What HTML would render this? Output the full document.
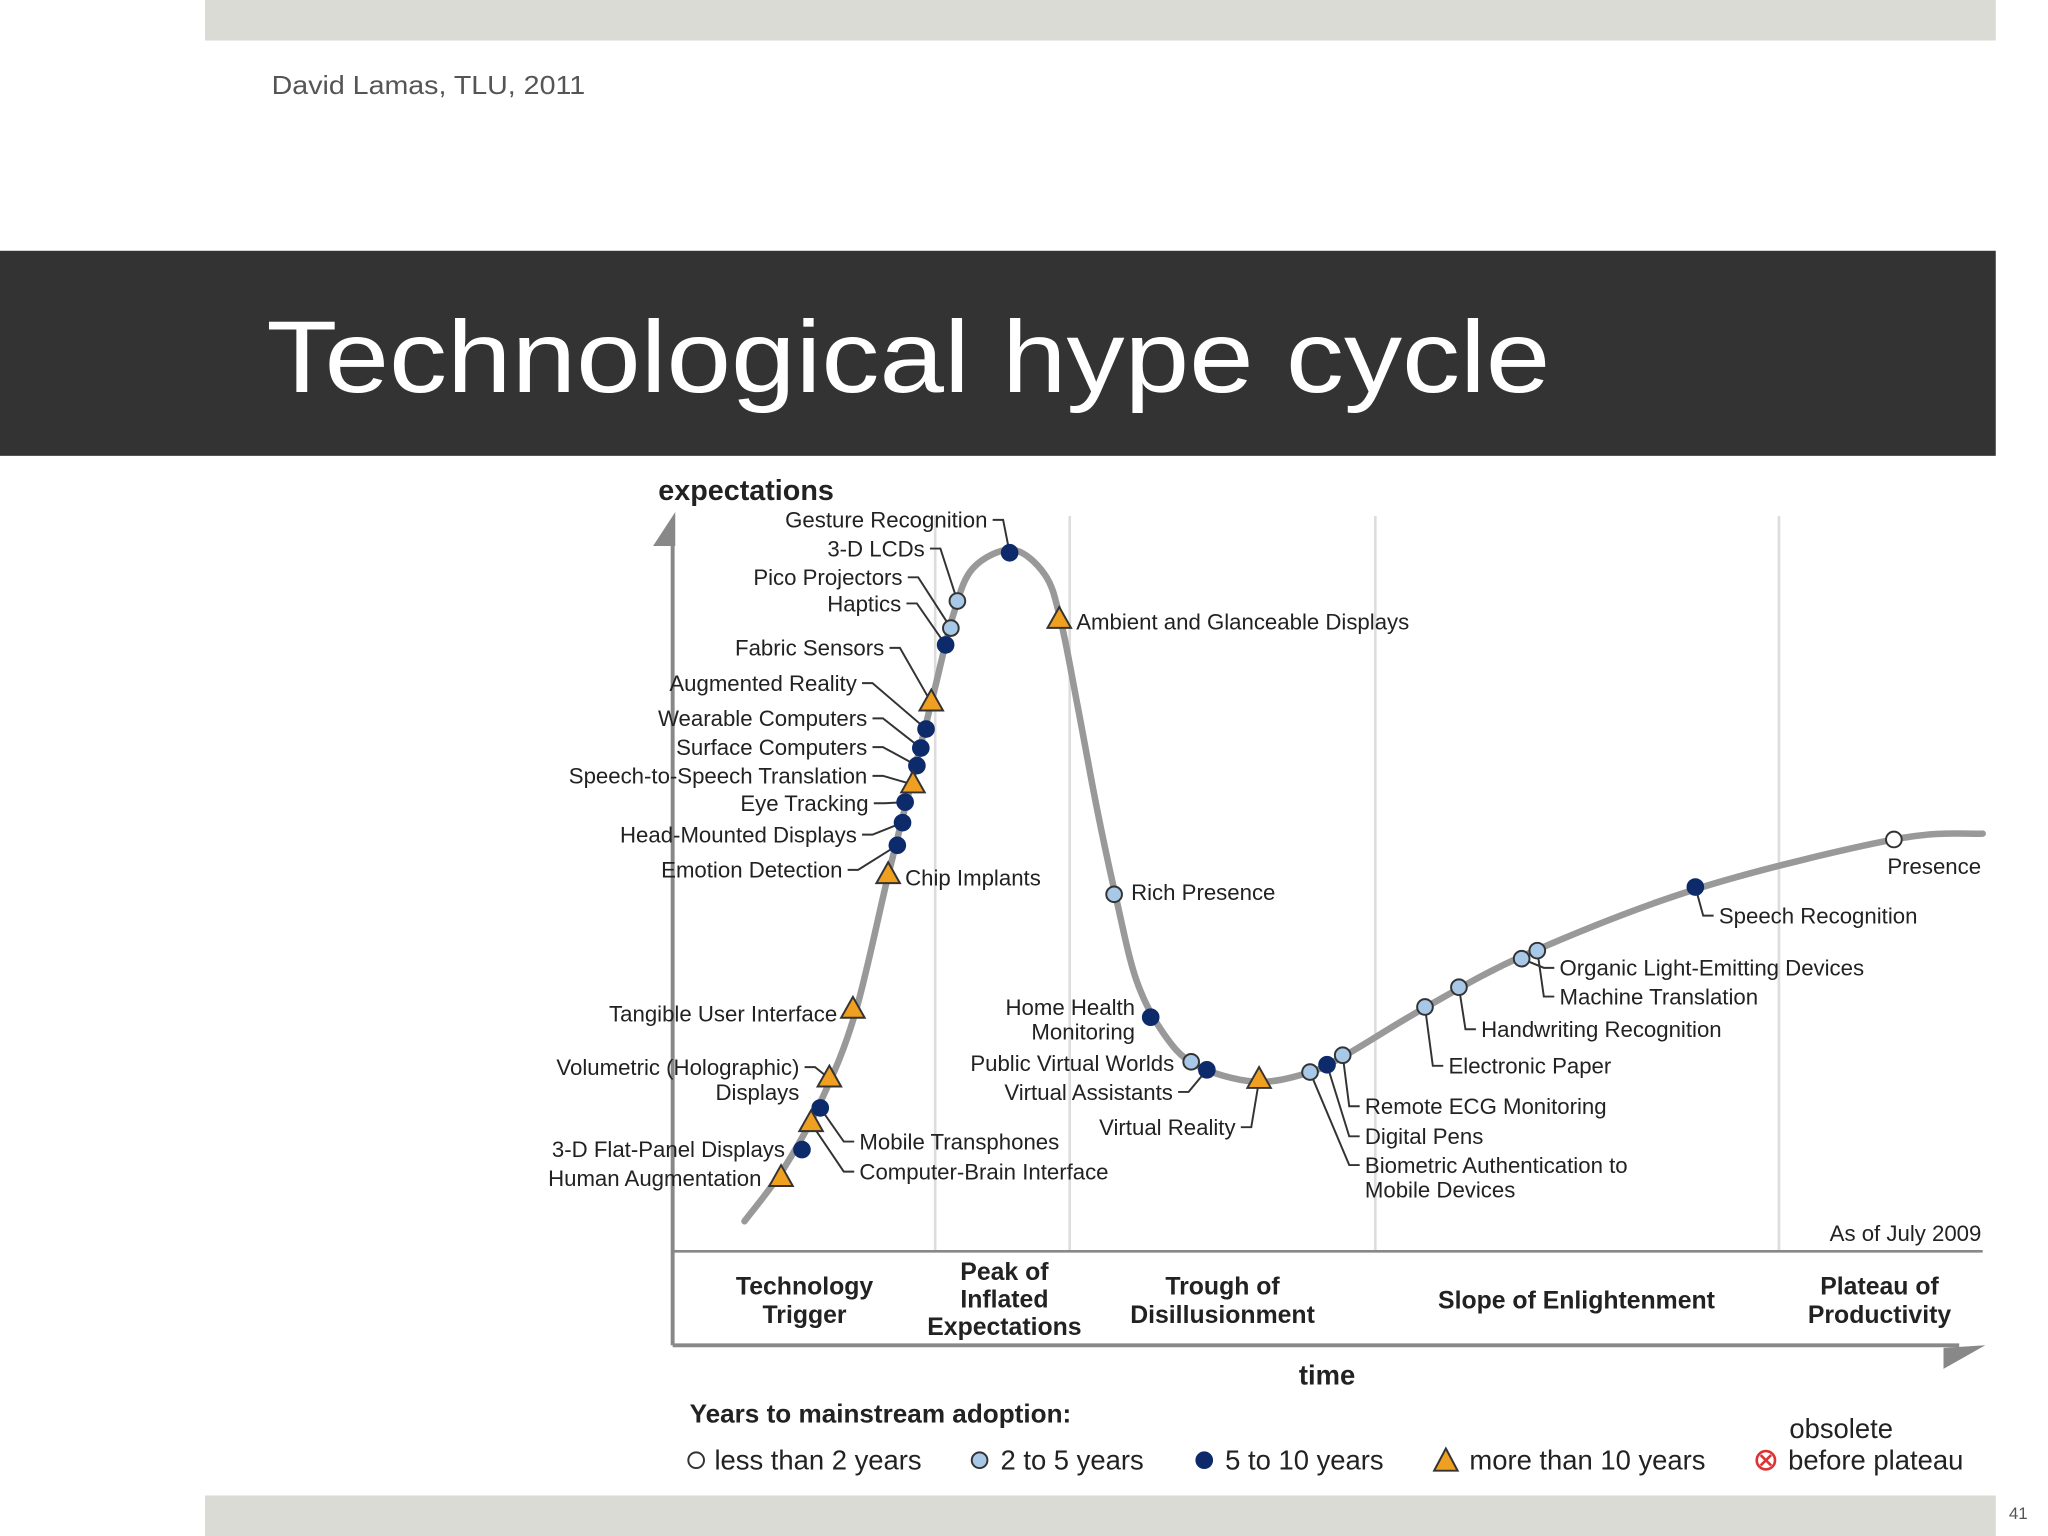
<!DOCTYPE html>
<html><head><meta charset="utf-8"><style>
html,body{margin:0;padding:0;background:#fff;}
svg{display:block;font-family:"Liberation Sans",Arial,sans-serif;}
</style></head><body>
<svg id="chart" width="2048" height="1536" viewBox="0 0 1568 1176" xmlns="http://www.w3.org/2000/svg">
<rect x="0" y="0" width="1568" height="1176" fill="#fff"/>
<rect x="157" y="0" width="1371" height="31" fill="#d9dbd4"/>
<text x="208" y="72" font-size="20" fill="#555" textLength="240" lengthAdjust="spacingAndGlyphs">David Lamas, TLU, 2011</text>
<rect x="0" y="192" width="1528" height="157" fill="#333"/>
<text x="204" y="300" font-size="78" fill="#fff" textLength="983" lengthAdjust="spacingAndGlyphs">Technological hype cycle</text>
<rect x="157" y="1145" width="1371" height="31" fill="#d9dbd4"/>
<text x="1538" y="1163" font-size="13" fill="#555">41</text>

<g stroke="#ddd" stroke-width="2">
<line x1="716" y1="395" x2="716" y2="958"/><line x1="819" y1="395" x2="819" y2="958"/>
<line x1="1053" y1="395" x2="1053" y2="958"/><line x1="1362" y1="395" x2="1362" y2="958"/>
</g>
<g stroke="#888" stroke-width="3" fill="none">
<line x1="515" y1="410" x2="515" y2="1030"/>
<line x1="515" y1="1030" x2="1500" y2="1030"/>
<line x1="515" y1="958" x2="1518" y2="958" stroke-width="2"/>
</g>
<polygon points="500,418 517,392 517,418" fill="#888"/>
<polygon points="1488,1032 1520,1030 1488,1048" fill="#888"/>
<text x="504" y="383" font-size="22" font-weight="bold" fill="#222">expectations</text>
<text x="1016" y="1060" font-size="21" font-weight="bold" fill="#222" text-anchor="middle">time</text>
<text x="1517" y="950" font-size="17" fill="#222" text-anchor="end">As of July 2009</text>

<g font-size="19" font-weight="bold" fill="#222" text-anchor="middle">
<text x="616" y="991">Technology</text><text x="616" y="1013">Trigger</text>
<text x="769" y="980">Peak of</text><text x="769" y="1001">Inflated</text><text x="769" y="1022">Expectations</text>
<text x="936" y="991">Trough of</text><text x="936" y="1013">Disillusionment</text>
<text x="1207" y="1002">Slope of Enlightenment</text>
<text x="1439" y="991">Plateau of</text><text x="1439" y="1013">Productivity</text>
</g>

<g id="curve-layer"></g>
<g id="leader-layer" stroke="#333" stroke-width="1.5" fill="none"></g>
<g id="marker-layer"></g>
<g id="label-layer" font-size="17" fill="#222"></g>

<g font-size="21" fill="#222">
<text x="528" y="1089" font-weight="bold" font-size="20">Years to mainstream adoption:</text>
<g><circle cx="533" cy="1118" r="6" fill="#fff" stroke="#333" stroke-width="1.5"/><text x="547" y="1125">less than 2 years</text></g>
<g><circle cx="750" cy="1118" r="6" fill="#a8c8e8" stroke="#333" stroke-width="1.5"/><text x="766" y="1125">2 to 5 years</text></g>
<g><circle cx="922" cy="1118" r="6" fill="#0d2a6b" stroke="#0d2a6b" stroke-width="1.5"/><text x="938" y="1125">5 to 10 years</text></g>
<g><polygon points="1107,1109 1116,1126 1098,1126" fill="#f0a020" stroke="#333" stroke-width="1.5"/><text x="1125" y="1125">more than 10 years</text></g>
<g><circle cx="1352" cy="1118" r="7" fill="#fff" stroke="#d33" stroke-width="2"/><path d="M1348,1114 L1356,1122 M1356,1114 L1348,1122" stroke="#d33" stroke-width="2"/><text x="1370" y="1101">obsolete</text><text x="1369" y="1125">before plateau</text></g>
</g>
</svg>
<script>
// Curve data: time (0-100) vs expectations (0-100)
const curveTime = [5.5,8.5,11.5,14,16.5,18.5,20,21.5,23,26,28.5,29.7,31,32.5,34,35.5,37.5,40,44.5,48.5,51.5,57.5,65.5,78.5,93.5,100.3];
const curveExpect = [4.1,11.3,21.1,32.7,51.4,65.7,76.4,87.1,93.4,95.9,92.5,86.3,74.6,60.4,47.9,37.1,30,25.5,23.2,24.3,26.8,33.2,40.7,49.6,56.3,57.1];
// Technologies
const techNames = ["Gesture Recognition","3-D LCDs","Pico Projectors","Haptics","Fabric Sensors","Augmented Reality","Wearable Computers","Surface Computers","Speech-to-Speech Translation","Eye Tracking","Head-Mounted Displays","Emotion Detection","Chip Implants","Tangible User Interface","Volumetric (Holographic) Displays","Mobile Transphones","Computer-Brain Interface","3-D Flat-Panel Displays","Human Augmentation","Ambient and Glanceable Displays","Rich Presence","Home Health Monitoring","Public Virtual Worlds","Virtual Assistants","Virtual Reality","Biometric Authentication to Mobile Devices","Digital Pens","Remote ECG Monitoring","Electronic Paper","Handwriting Recognition","Organic Light-Emitting Devices","Machine Translation","Speech Recognition","Presence"];
const techTime = [25.8,21.8,21.3,20.9,19.8,19.4,19.0,18.7,18.4,17.8,17.6,17.2,16.5,13.8,12.0,11.3,10.6,9.9,8.3,29.6,33.8,36.6,39.7,40.9,44.9,48.8,50.1,51.3,57.6,60.2,65.0,66.2,78.3,93.5];
const techExpect = [95.5,88.9,85.2,82.9,75.0,71.4,68.8,66.4,63.8,61.4,58.6,55.5,51.4,33.0,23.6,19.6,17.5,13.9,10.0,86.3,48.8,32.0,25.9,24.8,23.4,24.5,25.5,26.8,33.4,36.1,40.0,41.1,49.8,56.3];
const techAdoption = ["d","l","l","d","t","d","d","d","t","d","d","d","t","t","t","d","t","d","t","t","l","d","l","d","t","l","d","l","l","l","l","l","d","w"];

const xS = t => 515 + t*10;
const yS = e => 958 - e*5.6;
const NS = "http://www.w3.org/2000/svg";

(function(){
  const p = curveTime.map((t,i)=>[xS(t), yS(curveExpect[i])]);
  let d = `M${p[0][0]},${p[0][1]}`;
  for (let i=0;i<p.length-1;i++){
    const p0=p[Math.max(0,i-1)], p1=p[i], p2=p[i+1], p3=p[Math.min(p.length-1,i+2)];
    const c1=[p1[0]+(p2[0]-p0[0])/6, p1[1]+(p2[1]-p0[1])/6];
    const c2=[p2[0]-(p3[0]-p1[0])/6, p2[1]-(p3[1]-p1[1])/6];
    d += ` C${c1[0]},${c1[1]} ${c2[0]},${c2[1]} ${p2[0]},${p2[1]}`;
  }
  const path = document.createElementNS(NS,"path");
  path.setAttribute("d", d);
  path.setAttribute("fill","none");
  path.setAttribute("stroke","#999");
  path.setAttribute("stroke-width","5");
  path.setAttribute("stroke-linecap","round");
  
  
  document.getElementById("curve-layer").appendChild(path);
})();

const labelLayout = [
 [["Gesture Recognition"],756,404,"end",0],
 [["3-D LCDs"],708,426,"end",1],
 [["Pico Projectors"],691,448,"end",2],
 [["Haptics"],690,468,"end",3],
 [["Fabric Sensors"],677,502,"end",4],
 [["Augmented Reality"],656,529,"end",5],
 [["Wearable Computers"],664,556,"end",6],
 [["Surface Computers"],664,578,"end",7],
 [["Speech-to-Speech Translation"],664,600,"end",8],
 [["Eye Tracking"],665,621,"end",9],
 [["Head-Mounted Displays"],656,645,"end",10],
 [["Emotion Detection"],645,672,"end",11],
 [["Chip Implants"],693,678,"start",-1],
 [["Tangible User Interface"],641,782,"end",-1],
 [["Volumetric (Holographic)","Displays"],612,823,"end",14],
 [["Mobile Transphones"],658,880,"start",15],
 [["Computer-Brain Interface"],658,903,"start",16],
 [["3-D Flat-Panel Displays"],601,886,"end",-1],
 [["Human Augmentation"],583,908,"end",-1],
 [["Ambient and Glanceable Displays"],824,482,"start",-1],
 [["Rich Presence"],866,689,"start",-1],
 [["Home Health","Monitoring"],869,777,"end",-1],
 [["Public Virtual Worlds"],899,820,"end",-1],
 [["Virtual Assistants"],898,842,"end",23],
 [["Virtual Reality"],946,869,"end",24],
 [["Remote ECG Monitoring"],1045,853,"start",27],
 [["Digital Pens"],1045,876,"start",26],
 [["Biometric Authentication to","Mobile Devices"],1045,898,"start",25],
 [["Electronic Paper"],1109,822,"start",28],
 [["Handwriting Recognition"],1134,794,"start",29],
 [["Organic Light-Emitting Devices"],1194,747,"start",30],
 [["Machine Translation"],1194,769,"start",31],
 [["Speech Recognition"],1316,707,"start",32],
 [["Presence"],1445,669,"start",-1]
];

const leaders = document.getElementById("leader-layer");
const labels = document.getElementById("label-layer");
labelLayout.forEach(l=>{
  const t = document.createElementNS(NS,"text");
  t.setAttribute("x", l[1]); t.setAttribute("y", l[2]);
  t.setAttribute("text-anchor", l[3]);
  l[0].forEach((line,i)=>{
    const ts = document.createElementNS(NS,"tspan");
    ts.setAttribute("x", l[1]); ts.setAttribute("dy", i===0?0:19);
    ts.textContent = line;
    t.appendChild(ts);
  });
  
  
  labels.appendChild(t);
  if (l[4] >= 0){
    const mi = l[4];
    const mx = xS(techTime[mi]), my = yS(techExpect[mi]);
    const sx = l[3]==="end" ? l[1]+4 : l[1]-4;
    const sy = l[2]-6;
    const midx = l[3]==="end" ? sx+8 : sx-8;
    const pl = document.createElementNS(NS,"polyline");
    pl.setAttribute("points", `${sx},${sy} ${midx},${sy} ${mx},${my}`);
    
    
    leaders.appendChild(pl);
  }
});

const markers = document.getElementById("marker-layer");
techNames.forEach((name,i)=>{
  const x = xS(techTime[i]), y = yS(techExpect[i]);
  const a = techAdoption[i];
  let el;
  if (a === "t"){
    el = document.createElementNS(NS,"polygon");
    el.setAttribute("points", `${x},${y-10} ${x+9},${y+6} ${x-9},${y+6}`);
    el.setAttribute("fill","#f0a020");
    el.setAttribute("stroke","#333");
  } else {
    el = document.createElementNS(NS,"circle");
    el.setAttribute("cx", x); el.setAttribute("cy", y); el.setAttribute("r", 6);
    el.setAttribute("fill", a==="d" ? "#0d2a6b" : a==="l" ? "#a8c8e8" : "#fff");
    el.setAttribute("stroke", a==="d" ? "#0d2a6b" : "#333");
  }
  el.setAttribute("stroke-width","1.5");
  
  
  markers.appendChild(el);
});
</script>
</body></html>
